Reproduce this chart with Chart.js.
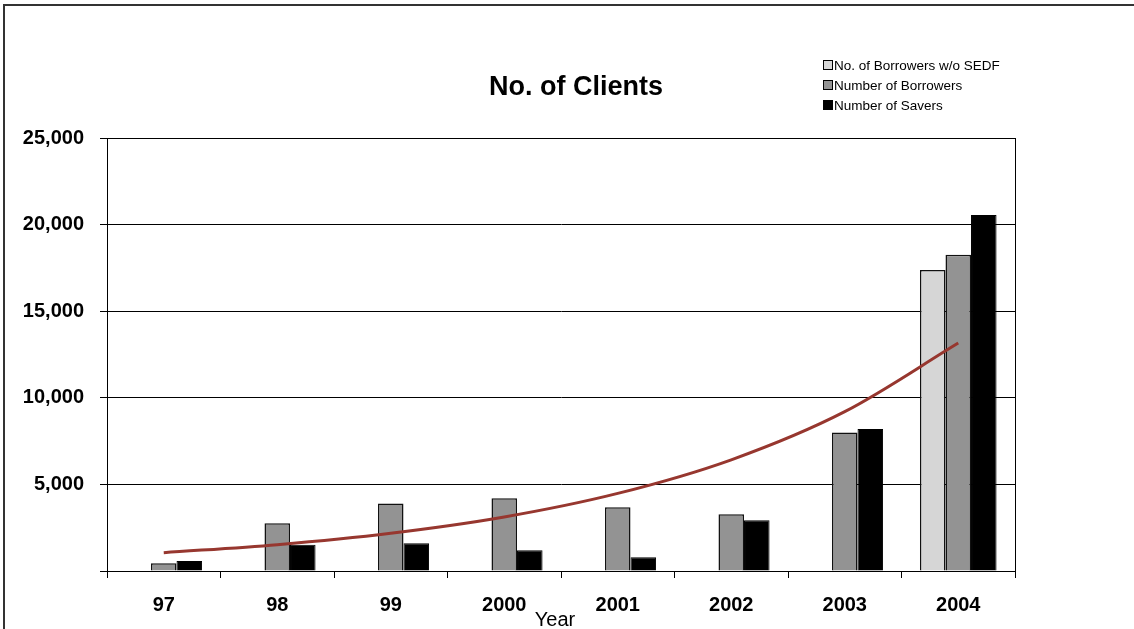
<!DOCTYPE html>
<html>
<head>
<meta charset="utf-8">
<script src="https://cdn.jsdelivr.net/npm/chart.js@4"></script>
<style>
    html, body { margin: 0; padding: 0; background: #fff; }
    #wrap { position: relative; width: 1134px; height: 629px; overflow: hidden; }
    #frame { position: absolute; left: 3px; top: 4px; right: -10px; bottom: -10px;
             border-top: 2px solid #333; border-left: 2px solid #333; }
    canvas { position: absolute; left: 0; top: 0; }
</style>
</head>
<body>
<div id="wrap">
    <div id="frame"></div>
    <canvas id="clientsChart" width="1134" height="629"></canvas>
</div>
<script>
// ===== DATA =====
const years = ['97', '98', '99', '2000', '2001', '2002', '2003', '2004'];
const borrowersWithoutSedf = [null, null, null, null, null, null, null, 17380];
const borrowers = [450, 2750, 3900, 4200, 3680, 3270, 8000, 18260];
const savers = [580, 1520, 1600, 1200, 790, 2930, 8200, 20550];
const trendValues = [1060, 1520, 2180, 3120, 4480, 6420, 9200, 13160];

const FONT = "'Liberation Sans', Arial, sans-serif";

// ===== EXTRA DRAWING (title, legend, frame, axis label) =====
const decorations = {
    id: 'decorations',
    afterDraw(chart) {
        const ctx = chart.ctx;
        const area = chart.chartArea;
        ctx.save();

        // plot frame
        ctx.strokeStyle = '#000';
        ctx.lineWidth = 1;
        ctx.strokeRect(area.left + 0.5, area.top + 0.5, area.right - area.left, area.bottom - area.top);

        // title
        ctx.fillStyle = '#000';
        ctx.font = 'bold 27px ' + FONT;
        ctx.textAlign = 'center';
        ctx.textBaseline = 'middle';
        ctx.fillText('No. of Clients', 576, 88);

        // x axis title
        ctx.font = '20px ' + FONT;
        ctx.fillText('Year', 555, 620);

        // legend
        const rows = [65, 85, 105];
        ctx.font = '13.5px ' + FONT;
        ctx.textAlign = 'left';
        chart.data.datasets.filter(d => d.type !== 'line').forEach((ds, i) => {
            const y = rows[i];
            ctx.fillStyle = ds.backgroundColor;
            ctx.fillRect(823.5, y - 4.5, 9, 9);
            ctx.strokeStyle = '#000';
            ctx.strokeRect(823.5, y - 4.5, 9, 9);
            ctx.fillStyle = '#000';
            ctx.fillText(ds.label, 834, y + 1);
        });
        ctx.restore();
    }
};

// ===== CHART =====
new Chart(document.getElementById('clientsChart'), {
    type: 'bar',
    data: {
        labels: years,
        datasets: [
            {
                label: 'No. of Borrowers w/o SEDF',
                data: borrowersWithoutSedf,
                backgroundColor: '#d6d6d6',
                borderColor: '#111',
                borderWidth: 1.5,
                order: 2
            },
            {
                label: 'Number of Borrowers',
                data: borrowers,
                backgroundColor: '#939393',
                borderColor: '#111',
                borderWidth: 1.5,
                order: 2
            },
            {
                label: 'Number of Savers',
                data: savers,
                backgroundColor: '#000000',
                borderColor: '#000',
                borderWidth: 1,
                order: 2
            },
            {
                type: 'line',
                label: 'Trend',
                data: trendValues,
                borderColor: '#97372f',
                borderWidth: 3,
                pointRadius: 0,
                cubicInterpolationMode: 'monotone',
                fill: false,
                order: 1
            }
        ]
    },
    options: {
        responsive: false,
        animation: false,
        devicePixelRatio: 1,
        layout: { padding: { top: 138, right: 119, left: 0, bottom: 0 } },
        datasets: {
            bar: { categoryPercentage: 0.675, barPercentage: 1, grouped: true }
        },
        plugins: {
            legend: { display: false },
            title: { display: false },
            tooltip: { enabled: false }
        },
        scales: {
            x: {
                afterFit: scale => { scale.height = 58; },
                grid: {
                    offset: true,
                    drawOnChartArea: false,
                    color: '#000',
                    tickLength: 7
                },
                border: { color: '#000', width: 1 },
                ticks: {
                    color: '#000',
                    padding: 15,
                    font: { family: FONT, size: 20, weight: 'bold' }
                }
            },
            y: {
                min: 0,
                max: 25000,
                afterFit: scale => { scale.width = 107; },
                grid: { color: '#000', tickLength: 7 },
                border: { color: '#000', width: 1 },
                ticks: {
                    stepSize: 5000,
                    color: '#000',
                    padding: 16,
                    font: { family: FONT, size: 20, weight: 'bold' },
                    callback: v => v === 0 ? '' : v.toLocaleString('en-US')
                }
            }
        }
    },
    plugins: [decorations]
});
</script>
</body>
</html>
